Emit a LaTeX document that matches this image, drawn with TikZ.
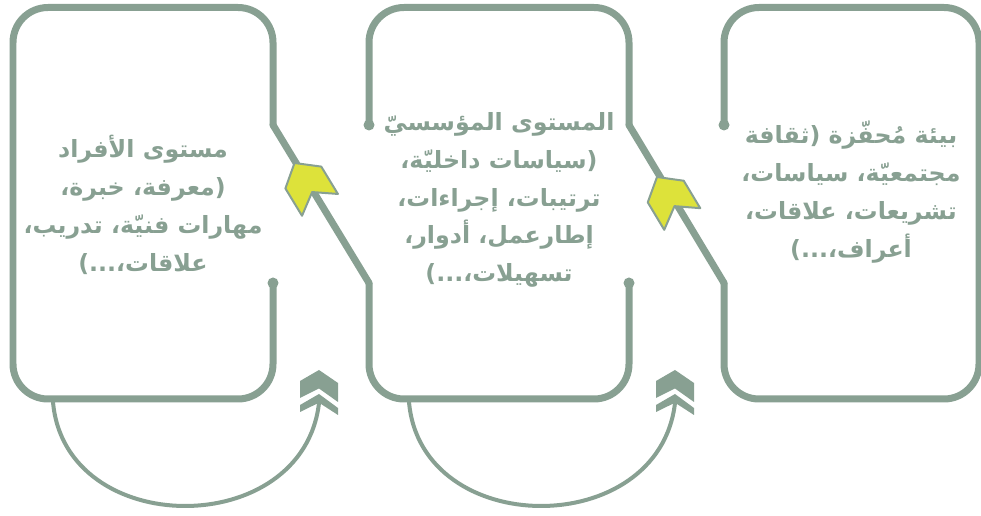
\documentclass[tikz,border=0pt]{standalone}
\usepackage{fontspec}
\newfontfamily\arabicfont[Script=Arabic]{DejaVu Sans}
\TeXXeTstate=1
\definecolor{greyline}{RGB}{136,160,146}
\definecolor{yellowtip}{RGB}{221,226,58}

\begin{document}
\begin{tikzpicture}[x=0.02cm,y=-0.02cm,
        frame/.style={greyline,line width=0.14cm,rounded corners=0.7cm,line cap=round},
        link/.style={greyline,line width=0.14cm,line cap=round},
        loopline/.style={greyline,line width=0.08cm},
        yellowhead/.style={fill=yellowtip,draw=greyline,line width=0.04cm,line join=round},
        txt/.style={greyline,align=center,font=\arabicfont\bfseries\fontsize{13.5}{21.5}\selectfont}]
        \useasboundingbox (0,0) rectangle (981,516);
        % boxes and the links between them
        \draw[frame] (273,283) -- (273,399) -- (13,399) -- (13,7.5) -- (273,7.5) -- (273,125);
        \draw[link] (273,125) -- (369,283);
        \draw[frame] (369,283) -- (369,399) -- (629,399) -- (629,283);
        \draw[frame] (369,125) -- (369,7.5) -- (629,7.5) -- (629,125);
        \draw[link] (629,125) -- (724,283);
        \draw[frame] (724,283) -- (724,399) -- (979,399) -- (979,7.5) -- (724,7.5) -- (724,125);
        \fill[greyline] (273,283) circle (0.11cm) (629,283) circle (0.11cm)
                (369,125) circle (0.11cm) (724,125) circle (0.11cm);
        % yellow heads on the links
        \begin{scope}[shift={(294.5,163)},rotate=121.3]
        \filldraw[yellowhead] (0,0) -- (-17,21) -- (-49,21) -- (-34,0) -- (-49,-21) -- (-17,-21) -- cycle;
        \end{scope}
        \begin{scope}[shift={(657,177)},rotate=121]
        \filldraw[yellowhead] (0,0) -- (-17,21) -- (-49,21) -- (-34,0) -- (-49,-21) -- (-17,-21) -- cycle;
        \end{scope}
        % loops under the boxes
        \coordinate (out1) at (53,402);
        \coordinate (in1) at (319,403);
        \coordinate (out2) at (409,402);
        \coordinate (in2) at (675,403);
        \draw[loopline] (out1) .. controls +(12,138) and +(-16,138) .. (in1);
        \draw[loopline] (out2) .. controls +(12,138) and +(-16,138) .. (in2);
        \fill[greyline] (300,381) -- (319,370) -- (338,383) -- (338,402) -- (319,388.5) -- (300,398) -- cycle
                (300,405) -- (319,394) -- (338,408) -- (338,415) -- (319,402.7) -- (300,412) -- cycle;
        \fill[greyline] (656,381) -- (675,370) -- (694,383) -- (694,402) -- (675,388.5) -- (656,398) -- cycle
                (656,405) -- (675,394) -- (694,408) -- (694,415) -- (675,402.7) -- (656,412) -- cycle;
        % texts
        \node[txt] (indiv) at (143,205) {\beginR مستوى الأفراد\endR\\\beginR(معرفة، خبرة،\endR\\
                \beginR مهارات فنيّة، تدريب،\endR\\\beginR علاقات،...)\endR};
        \node[txt] (inst) at (499,200) {\beginR المستوى المؤسسيّ\endR\\\beginR(سياسات داخليّة،\endR\\
                \beginR ترتيبات، إجراءات،\endR\\\beginR إطارعمل، أدوار،\endR\\\beginR تسهيلات،...)\endR};
        \node[txt] (envir) at (851,192) {\beginR بيئة مُحفّزة (ثقافة\endR\\\beginR مجتمعيّة، سياسات،\endR\\
                \beginR تشريعات، علاقات،\endR\\\beginR أعراف،...)\endR};
\end{tikzpicture}
\end{document}
